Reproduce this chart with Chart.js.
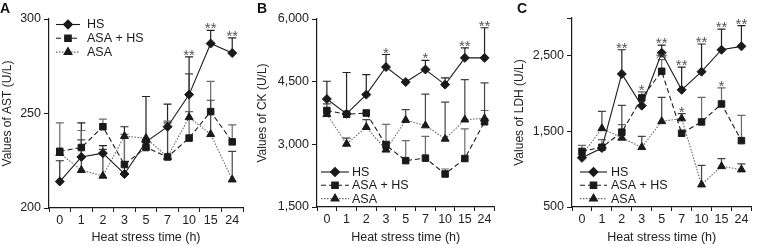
<!DOCTYPE html>
<html><head><meta charset="utf-8">
<script src="https://cdn.jsdelivr.net/npm/chart.js@4/dist/chart.umd.min.js"></script>
<style>
html,body{margin:0;padding:0;background:#fff;}
#wrap{position:relative;width:757px;height:247px;overflow:hidden;font-family:"Liberation Sans",Arial,sans-serif;}
.pane{position:absolute;top:0;height:247px;}
.letter{position:absolute;top:1px;font-weight:bold;font-size:14px;line-height:14px;color:#111;}
</style></head><body>
<div id="wrap">
  <div class="pane" style="left:0;width:250px"><canvas id="cA" width="250" height="247"></canvas></div>
  <div class="pane" style="left:250px;width:250px"><canvas id="cB" width="250" height="247"></canvas></div>
  <div class="pane" style="left:500px;width:257px"><canvas id="cC" width="257" height="247"></canvas></div>
  <div class="letter" style="left:0px">A</div>
  <div class="letter" style="left:257px">B</div>
  <div class="letter" style="left:517px">C</div>
</div>
<script>
// ---------- data ----------
const timeLabels = ['0','1','2','3','5','7','10','15','24'];
const seriesNames = ['HS','ASA + HS','ASA'];

// Panel A: AST (U/L)
const astHS      = [214, 227, 229, 218, 235, 243, 260, 287, 282];
const astHSErr   = [225, 245, 233, 243, 259, 255, 280, 294, 290];
const astAH      = [230, 232, 243, 223, 232, 227, 237, 251, 235];
const astAHErr   = [245, 241, 247, 239, null, 246, 251, 267, 244];
const astASA     = [229, 220, 217, 238, 237, 227, 248, 239, 215];
const astASAErr  = [null, 236, 231, null, null, 245, 271, 257, 230];
const astSigHS   = ['', '', '', '', '', '', '**', '**', '**'];
const astTicks   = [200, 250, 300];

// Panel B: CK (U/L)
const ckHS       = [4085, 3730, 4190, 4850, 4490, 4790, 4430, 5070, 5070];
const ckHSErr    = [4510, 4720, 4670, 5150, null, 5010, 4590, 5310, 5790];
const ckAH       = [3810, 3720, 3750, 2980, 2610, 2670, 2290, 2660, 3540];
const ckAHErr    = [null, null, null, 3480, 3090, 3190, 2410, 3370, 3810];
const ckASA      = [3720, 3010, 3410, 2870, 3580, 3450, 3130, 3590, 3620];
const ckASAErr   = [3970, 3150, 3590, 3070, 3830, 4200, 4010, 4550, 4470];
const ckSigHS    = ['', '', '', '*', '', '*', '', '**', '**'];
const ckTicks    = [1500, 3000, 4500, 6000];

// Panel C: LDH (U/L)
const ldhHS      = [1150, 1280, 2260, 1840, 2540, 2050, 2290, 2580, 2625];
const ldhHSErr   = [null, null, 2580, null, 2640, 2350, 2656, 2853, 2898];
const ldhAH      = [1235, 1290, 1490, 1943, 2295, 1475, 1625, 1863, 1378];
const ldhAHErr   = [1316, 1391, 1590, 2022, 2450, null, 1951, 2075, 1713];
const ldhASA     = [1185, 1540, 1414, 1290, 1633, 1670, 796, 1038, 995];
const ldhASAErr  = [null, 1766, 1845, 1435, 1950, 1735, 1051, 1140, 1070];
const ldhSigHS   = ['', '', '**', '', '**', '**', '**', '**', '**'];
const ldhSigAH   = ['', '', '', '*', '**', '', '', '*', ''];
const ldhSigASA  = ['', '', '', '', '', '*', '', '', ''];
const ldhTicks   = [500, 1500, 2500, 3000];
const ldhLabelled = [500, 1500, 2500];

// ---------- drawing ----------
const FONT = '"Liberation Sans", Arial, sans-serif';
const INK = '#1a1a1a';

function drawMarker(ctx, style, r, x, y) {
  if (Chart.helpers && Chart.helpers.drawPoint) {
    Chart.helpers.drawPoint(ctx, {pointStyle: style, radius: r, rotation: 0, borderWidth: 1}, x, y);
  }
}

const errPlugin = {
  id: 'errbars',
  beforeDatasetsDraw(chart) {
    const ctx = chart.ctx, xs = chart.scales.x, ys = chart.scales.y;
    chart.data.datasets.forEach(ds => {
      if (!ds.errTop) return;
      ctx.save();
      ctx.strokeStyle = ds.errColor; ctx.lineWidth = 1.2; ctx.setLineDash([]);
      ds.errTop.forEach((t, i) => {
        if (t == null) return;
        const px = xs.getPixelForValue(i);
        const y0 = ys.getPixelForValue(ds.data[i]), y1 = ys.getPixelForValue(t);
        ctx.beginPath();
        ctx.moveTo(px, y0); ctx.lineTo(px, y1);
        ctx.moveTo(px - 4, y1); ctx.lineTo(px + 4, y1);
        ctx.stroke();
      });
      ctx.restore();
    });
  },
  afterDatasetsDraw(chart, args, opts) {
    const ctx = chart.ctx, xs = chart.scales.x, ys = chart.scales.y;
    // significance marks
    chart.data.datasets.forEach(ds => {
      if (!ds.sig) return;
      ctx.save();
      ctx.fillStyle = '#555'; ctx.font = '15px ' + FONT;
      ctx.textAlign = 'center'; ctx.textBaseline = 'alphabetic';
      ds.sig.forEach((s, i) => {
        if (!s) return;
        const top = ds.errTop && ds.errTop[i] != null ? ds.errTop[i] : ds.data[i];
        ctx.fillText(s, xs.getPixelForValue(i), ys.getPixelForValue(top) + 3);
      });
      ctx.restore();
    });
    // legend
    const L = opts.legend;
    if (!L) return;
    chart.data.datasets.forEach((ds, i) => {
      const y = L.y + i * L.rowH;
      ctx.save();
      ctx.strokeStyle = ds.borderColor; ctx.lineWidth = ds.borderWidth;
      ctx.setLineDash(ds.borderDash || []);
      ctx.beginPath(); ctx.moveTo(L.x, y); ctx.lineTo(L.x + L.lineLen, y); ctx.stroke();
      ctx.setLineDash([]);
      ctx.fillStyle = ds.pointBackgroundColor; ctx.strokeStyle = ds.pointBorderColor;
      drawMarker(ctx, ds.pointStyle, ds.pointRadius, L.x + L.lineLen / 2, y);
      ctx.fillStyle = INK; ctx.font = '12.5px ' + FONT;
      ctx.textAlign = 'left'; ctx.textBaseline = 'middle';
      ctx.fillText(ds.label, L.x + L.textOff, y + 0.5);
      ctx.restore();
    });
  }
};

function makeDataset(i, data, err, sig) {
  const styles = [
    {pointStyle: 'rectRot', pointRadius: 4.5, borderDash: [], borderColor: INK, errColor: '#222'},
    {pointStyle: 'rect', pointRadius: 4.6, borderDash: [5, 3], borderColor: INK, errColor: '#6a6a6a'},
    {pointStyle: 'triangle', pointRadius: 4.6, borderDash: [1.5, 1.5], borderColor: '#666', errColor: '#444'}
  ][i];
  return Object.assign({
    label: seriesNames[i], data: data, errTop: err, sig: sig,
    borderWidth: 1.1, pointBackgroundColor: INK, pointBorderColor: INK, pointBorderWidth: 1,
    pointHoverRadius: 4.5, tension: 0, fill: false, clip: false
  }, styles);
}

function makeChart(id, c) {
  return new Chart(document.getElementById(id), {
    type: 'line',
    data: {labels: timeLabels, datasets: c.datasets},
    options: {
      responsive: false, animation: false, events: [],
      layout: {padding: {left: 0, top: c.padTop, right: c.padRight, bottom: 0}},
      plugins: {legend: {display: false}, tooltip: {enabled: false}, errbars: {legend: c.legend}},
      scales: {
        x: {
          type: 'category', offset: true,
          grid: {offset: true, drawOnChartArea: false, drawTicks: true, tickLength: 4, color: INK, lineWidth: 1},
          border: {display: true, color: INK, width: 1.2},
          ticks: {color: '#222', font: {family: FONT, size: 12.5}, padding: 1, maxRotation: 0, autoSkip: false},
          title: {display: true, text: 'Heat stress time (h)', color: '#222', font: {family: FONT, size: 12.5}, padding: {top: 0, bottom: 2}},
          afterFit: s => { s.height = c.xHeight; }
        },
        y: {
          min: c.yMin, max: c.yMax,
          afterBuildTicks: s => { s.ticks = c.ticks.map(v => ({value: v})); },
          grid: {drawOnChartArea: false, drawTicks: true, tickLength: 5, color: INK, lineWidth: 1},
          border: {display: true, color: INK, width: 1.2},
          ticks: {color: '#222', font: {family: FONT, size: 12.5}, padding: 3,
                  callback: v => (c.labelled && c.labelled.indexOf(v) < 0) ? '' : (v >= 1000 ? v.toLocaleString('en-US') : String(v))},
          title: {display: true, text: c.yTitle, color: '#222', font: {family: FONT, size: 12}, padding: {top: c.titlePad, bottom: 0}},
          afterFit: s => { s.width = c.yWidth; }
        }
      }
    },
    plugins: [errPlugin]
  });
}

makeChart('cA', {
  yMin: 200, yMax: 300, ticks: astTicks, yTitle: 'Values of AST (U/L)',
  yWidth: 49, xHeight: 39, padTop: 19, padRight: 7, titlePad: 0,
  legend: {x: 56, y: 24.5, lineLen: 24, textOff: 31, rowH: 13.8},
  datasets: [makeDataset(0, astHS, astHSErr, astSigHS), makeDataset(1, astAH, astAHErr, null), makeDataset(2, astASA, astASAErr, null)]
});
makeChart('cB', {
  yMin: 1500, yMax: 6000, ticks: ckTicks, yTitle: 'Values of CK (U/L)',
  yWidth: 67, xHeight: 40, padTop: 19, padRight: 3, titlePad: 5,
  legend: {x: 71, y: 172, lineLen: 28, textOff: 31, rowH: 13.3},
  datasets: [makeDataset(0, ckHS, ckHSErr, ckSigHS), makeDataset(1, ckAH, ckAHErr, null), makeDataset(2, ckASA, ckASAErr, null)]
});
makeChart('cC', {
  yMin: 500, yMax: 3000, ticks: ldhTicks, labelled: ldhLabelled, yTitle: 'Values of LDH (U/L)',
  yWidth: 72, xHeight: 40, padTop: 18, padRight: 2, titlePad: 12,
  legend: {x: 80, y: 172, lineLen: 27, textOff: 31, rowH: 13.3},
  datasets: [makeDataset(0, ldhHS, ldhHSErr, ldhSigHS), makeDataset(1, ldhAH, ldhAHErr, ldhSigAH), makeDataset(2, ldhASA, ldhASAErr, ldhSigASA)]
});
</script>
</body></html>
